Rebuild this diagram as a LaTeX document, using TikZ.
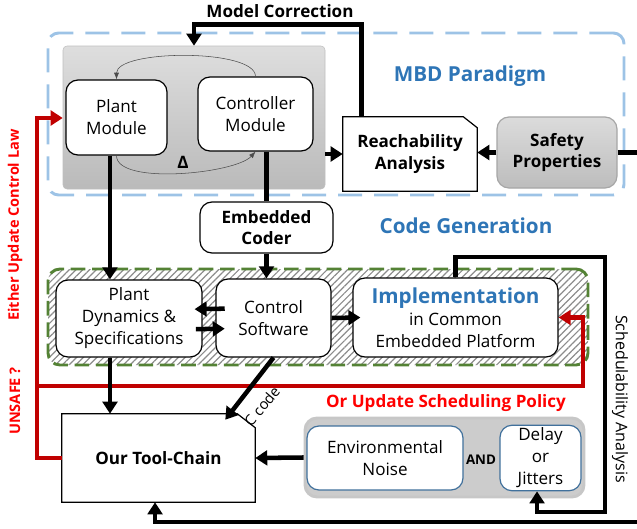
\documentclass[tikz,border=0pt]{standalone}
\usepackage{fontspec}
\setmainfont{Open Sans}
\usetikzlibrary{arrows.meta,patterns.meta}

\definecolor{mbdblue}{RGB}{157,195,230}
\definecolor{ttlblue}{RGB}{46,117,182}
\definecolor{cgreen}{RGB}{84,130,53}
\definecolor{darkred}{RGB}{192,0,0}
\definecolor{nblue}{RGB}{65,113,156}

\tikzstyle{bld} = [font=\fontsize{12.8}{16}\selectfont\bfseries]
\tikzstyle{bx} = [rectangle, draw, fill=white, rounded corners=9pt,
    align=center, inner sep=2pt, line width=0.9pt]
\tikzstyle{gbx} = [rectangle, draw=black!35, top color=black!14, bottom color=black!26,
    rounded corners=9pt, align=center, line width=0.9pt]
\tikzstyle{fat} = [line width=3.4pt, >={Triangle[length=9pt,width=11pt]}]
\tikzstyle{redln} = [fat, draw=darkred]
\tikzstyle{ttl} = [font=\fontsize{15.5}{18}\selectfont\bfseries, text=ttlblue]
\tikzstyle{warn} = [font=\fontsize{12.8}{15}\selectfont\bfseries, text=red]
\tikzstyle{vwarn} = [font=\fontsize{10.9}{13}\selectfont\bfseries, text=red, rotate=90]
\tikzset{wh/.style 2 args={minimum width=#1*0.75pt, minimum height=#2*0.75pt}}

\begin{document}
\begin{tikzpicture}[x=0.75pt,y=-0.75pt,font=\fontsize{12.8}{16.5}\selectfont]
  \useasboundingbox (0,0) rectangle (637,529);

  % MBD paradigm
  \node[draw=mbdblue, line width=2.2pt, dash pattern=on 18pt off 9pt,
        rounded corners=8pt, wh={576}{162}] (mbd) at (336,114) {};
  \node[draw=black!25, top color=black!13, bottom color=black!27,
        rounded corners=3pt, wh={262}{143}] (model) at (194,117.5) {};
  \node[bx, wh={101}{75}] (plant) at (116.5,117.5) {Plant\\Module};
  \node[bx, wh={115}{74}] (ctrl) at (255.5,114) {Controller\\Module};
  \node[align=center, bld, wh={134}{74}] (reach) at (410,154) {Reachability\\Analysis};
  \draw[line width=0.9pt] (reach.north west) -- ([xshift=-10.5pt]reach.north east)
    -- ([yshift=-8.25pt]reach.north east) -- (reach.south east) -- (reach.south west) -- cycle;
  \node[gbx, bld, wh={120}{71}] (safety) at (557,152.5) {Safety\\Properties};
  \node[ttl] (mbdt) at (470,76) {MBD Paradigm};
  \node[bld] (corr) at (280,11) {Model Correction};

  \draw[black!70, -{Latex[length=5pt]}] (ctrl.north) .. controls +(0,-28) and +(0,-30) .. (plant.north);
  \draw[black!70, -{Latex[length=5pt]}] (plant.south) .. controls +(0,30) and +(-20,22) .. (ctrl.south);
  \node[bld] (delta) at (183,162) {Δ};

  % code generation
  \node[bx, bld, wh={133}{51}] (coder) at (266.5,227.5) {Embedded\\Coder};
  \node[ttl] (cgt) at (466,226) {Code Generation};
  \node[draw=cgreen, line width=2.2pt, dash pattern=on 11pt off 5pt, rounded corners=9pt,
        pattern={Lines[angle=45,distance=3.6pt,line width=0.9pt]}, pattern color=black!45,
        wh={540}{96}] (impl box) at (318,317) {};
  \node[bx, wh={146}{77}] (pdyn) at (129,318.5) {Plant\\Dynamics \&\\Specifications};
  \node[bx, wh={115}{78}] (csw) at (273.5,318) {Control\\Software};
  \node[bx, wh={205}{79}] (impl) at (455.5,317.5)
    {{\fontsize{15.5}{18}\selectfont\bfseries\color{ttlblue}Implementation}\\in Common\\Embedded Platform};

  % tool chain
  \node[align=center, bld, wh={193}{88}] (tool) at (158.5,458) {Our Tool-Chain};
  \draw[line width=0.9pt] (tool.north west) -- ([xshift=-13.5pt]tool.north east)
    -- ([yshift=-10.5pt]tool.north east) -- (tool.south east) -- (tool.south west) -- cycle;
  \node[draw=black!22, line width=2.2pt, fill=black!20, rounded corners=9pt, wh={279}{79}] (env) at (444.5,457.5) {};
  \node[bx, draw=nblue, wh={156}{64}] (noise) at (385,458) {Environmental\\Noise};
  \node[bx, draw=nblue, wh={81}{64}] (delay) at (540.5,458) {Delay\\or\\Jitters};
  \node[font=\fontsize{10}{12}\selectfont\bfseries] (and) at (481,460) {AND};
  \node[warn] (orupd) at (446,403) {Or Update Scheduling Policy};

  % red feedback
  \coordinate (rl) at (37,118);
  \coordinate (rb) at (37,386);
  \coordinate (rr) at (583,386);
  \draw[redln,->] (tool.west) -| (rl) -- (rl -| model.west);
  \draw[redln,->] (rb) -- (rr) |- (impl.east);
  \node[vwarn] (either) at (15,225) {Either Update Control Law};
  \node[vwarn] (unsafe) at (15,401) {UNSAFE ?};

  % connectors
  \draw[fat,->] ([xshift=14.25pt]reach.north west) -- ++(0,-92) -| (model.north);
  \draw[fat,->] (model.east |- reach.west) -- (reach.west);
  \draw[fat,->] (safety.west) -- (reach.east |- safety.west);
  \coordinate (safeout) at (637,152.5);
  \draw[fat] (safety.east) -- (safeout);
  \draw[fat] (ctrl.south -| coder.north) -- (coder.north);
  \draw[fat,->] (coder.south) -- (coder.south |- csw.north);
  \draw[fat,->] ([xshift=-4.9pt]plant.south) -- ([xshift=-4.9pt]plant.south |- pdyn.north);
  \draw[fat,->] ([xshift=7pt,yshift=7pt]csw.west) -- ([xshift=-6pt,yshift=7pt]pdyn.east);
  \draw[fat,->] ([xshift=-5pt,yshift=-8pt]pdyn.east) -- ([xshift=7pt,yshift=-8pt]csw.west);
  \draw[fat,->] (csw.east) -- ([xshift=6pt]impl.west);
  \draw[fat,->] ([xshift=-14.25pt]pdyn.south) -- ([xshift=-14.25pt]pdyn.south |- tool.north);
  \draw[fat,->] (csw.south) -- ([xshift=-22.5pt,yshift=-4.5pt]tool.north east);
  \node[rotate=50, inner sep=0pt, font=\fontsize{11}{13}\selectfont] (ccode) at (262,406) {C code};
  \draw[fat,->] (env.west) -- (tool.east);
  \coordinate (sr) at (605,257);
  \coordinate (sb) at (605,512);
  \draw[fat,->] (impl.north) |- (sr) -- (sb) -| ([xshift=-2.6pt]delay.south);
  \node[rotate=-90, font=\fontsize{12}{14}\selectfont] (sched) at (620,399) {Schedulability Analysis};
  \coordinate (bin) at (637,522);
  \draw[fat,->] (bin) -| ([xshift=-2.6pt]tool.south);
\end{tikzpicture}
\end{document}
